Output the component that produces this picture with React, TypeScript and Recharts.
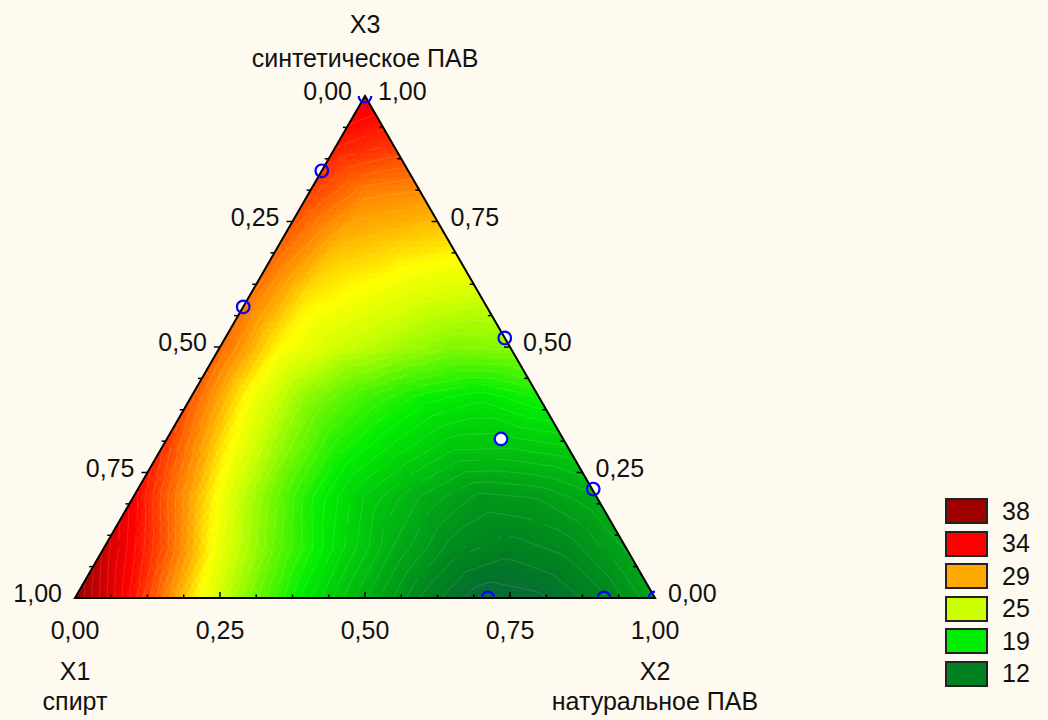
import React from "react"
import { ScatterChart, Scatter, XAxis, YAxis, Legend } from "recharts"

const H = Math.sqrt(3) / 2
const FONT = '"Liberation Sans", Arial, Helvetica, sans-serif'

// response on a 0.1 simplex lattice
// one row per X3 level (0 .. 1), entries for X2 = 0, 0.1, ... (X1 = 1 - X2 - X3)
const surfaceRows: number[][] = [
  [38.5, 33.5, 27.8, 22.8, 18.4, 15.0, 12.2, 10.6, 10.9, 12.0, 14.2],
  [36.2, 31.8, 26.2, 21.7, 18.0, 14.9, 12.7, 12.0, 12.6, 14.4],
  [34.2, 29.2, 24.2, 19.8, 16.8, 14.8, 13.4, 13.7, 14.8],
  [32.6, 27.8, 23.5, 19.9, 18.0, 16.4, 16.3, 16.8],
  [31.4, 26.8, 23.1, 20.8, 19.2, 18.4, 19.5],
  [31.0, 27.2, 25.2, 24.0, 22.8, 23.0],
  [30.6, 27.6, 26.6, 25.6, 25.1],
  [31.1, 28.6, 28.0, 27.5],
  [32.0, 30.0, 29.6],
  [33.2, 32.4],
  [34.6],
]

// experimental design points (X2, X3)
const rimX2 = [0, 0, 0, 0.482, 0.785, 0.712, 0.912, 1]
const rimX3 = [1, 0.851, 0.58, 0.518, 0.217, 0, 0, 0]
const innerX2 = [0.576]
const innerX3 = [0.317]

const tickLabels = ["0,00", "0,25", "0,50", "0,75", "1,00"]
const vertexNames = ["X1", "X2", "X3"]
const vertexTitles = ["спирт", "натуральное ПАВ", "синтетическое ПАВ"]
const legendLevels = [38, 34, 29, 25, 19, 12]

const legendColors = ["#a00000", "#ff0000", "#ffaa00", "#ccff00", "#00ee00", "#008020"]
const colorStops: [number, string][] = [
  [10, "#0d5e3e"],
  [11, "#066e32"],
  [12, "#008020"],
  [19, "#00ee00"],
  [25, "#ccff00"],
  [27, "#ffff00"],
  [29, "#ffaa00"],
  [34, "#ff0000"],
  [38, "#a00000"],
  [40, "#800000"],
]

const hex = (s: string) => [1, 3, 5].map((i) => parseInt(s.slice(i, i + 2), 16))

function colorFor(v: number) {
  if (v <= colorStops[0][0]) return colorStops[0][1]
  for (let i = 1; i < colorStops.length; i++) {
    const [v1, c1] = colorStops[i]
    if (v <= v1) {
      const [v0, c0] = colorStops[i - 1]
      const t = (v - v0) / (v1 - v0)
      const a = hex(c0)
      const b = hex(c1)
      const m = a.map((x, j) => Math.round(x + (b[j] - x) * t))
      return `rgb(${m[0]},${m[1]},${m[2]})`
    }
  }
  return colorStops[colorStops.length - 1][1]
}

// ternary -> cartesian (X2 along the bottom, X3 at the top)
const toXY = (x2: number, x3: number) => ({ x: x2 + x3 / 2, y: x3 * H })

const rowStart: number[] = []
const latticeData = surfaceRows.flatMap((row, k) => {
  rowStart.push(rowStart.length ? rowStart[k - 1] + surfaceRows[k - 1].length : 0)
  return row.map((v, i) => ({ ...toXY(i / 10, k / 10), v }))
})

const rimData = rimX2.map((b, i) => toXY(b, rimX3[i]))
const innerData = innerX2.map((b, i) => toXY(b, innerX3[i]))
const cornerData = [toXY(0, 0), toXY(1, 0), toXY(0, 1)]

const bottomLabels = tickLabels.map((label, i) => ({ ...toXY(i * 0.25, 0), label }))
// left edge carries X1 (1 at the bottom), right edge carries X3
const leftLabels = tickLabels.map((label, i) => ({ ...toXY(0, 1 - i * 0.25), label }))
const rightLabels = tickLabels.map((label, i) => ({ ...toXY(1 - i * 0.25, i * 0.25), label }))

const minor = Array.from({ length: 15 }, (_, j) => (j + 1) / 16)
const bottomTicks = minor.map((t, j) => ({ ...toXY(t, 0), major: (j + 1) % 4 === 0 }))
const leftTicks = minor.map((t, j) => ({ ...toXY(0, t), major: (j + 1) % 4 === 0 }))
const rightTicks = minor.map((t, j) => ({ ...toXY(1 - t, t), major: (j + 1) % 4 === 0 }))

const titleData = [
  { ...toXY(0, 0), name: vertexNames[0], title: vertexTitles[0], top: false },
  { ...toXY(1, 0), name: vertexNames[1], title: vertexTitles[1], top: false },
  { ...toXY(0, 1), name: vertexNames[2], title: vertexTitles[2], top: true },
]

const SUB = 8
const LEVEL_STEP = 0.65

function SurfaceMesh(props: any) {
  const pts = props.points
  if (!pts || pts.length !== latticeData.length) return null
  const polys: React.ReactNode[] = []
  let iso = ""
  const n = surfaceRows.length - 1
  const f = (z: number) => z.toFixed(1)

  const tri = (a: number, b: number, c: number) => {
    const pa = pts[a], pb = pts[b], pc = pts[c]
    const va = latticeData[a].v, vb = latticeData[b].v, vc = latticeData[c].v
    const P = (u: number, w: number) => [
      pa.x + ((pb.x - pa.x) * u) / SUB + ((pc.x - pa.x) * w) / SUB,
      pa.y + ((pb.y - pa.y) * u) / SUB + ((pc.y - pa.y) * w) / SUB,
    ]
    const V = (u: number, w: number) => va + ((vb - va) * u) / SUB + ((vc - va) * w) / SUB
    const push = (q: [number, number][]) => {
      const xy = q.map(([u, w]) => P(u, w))
      const vs = q.map(([u, w]) => V(u, w))
      const col = colorFor((vs[0] + vs[1] + vs[2]) / 3)
      polys.push(
        <polygon
          key={polys.length}
          points={xy.map((p) => f(p[0]) + "," + f(p[1])).join(" ")}
          fill={col}
          stroke={col}
          strokeWidth={1}
        />
      )
      // faint contour lines through this small triangle
      const lo = Math.min(...vs), hi = Math.max(...vs)
      for (let L = Math.ceil(lo / LEVEL_STEP) * LEVEL_STEP; L < hi; L += LEVEL_STEP) {
        const cut: number[][] = []
        for (let e = 0; e < 3; e++) {
          const v0 = vs[e], v1 = vs[(e + 1) % 3]
          if ((v0 - L) * (v1 - L) < 0) {
            const t = (L - v0) / (v1 - v0)
            const p0 = xy[e], p1 = xy[(e + 1) % 3]
            cut.push([p0[0] + (p1[0] - p0[0]) * t, p0[1] + (p1[1] - p0[1]) * t])
          }
        }
        if (cut.length === 2) iso += `M${f(cut[0][0])},${f(cut[0][1])}L${f(cut[1][0])},${f(cut[1][1])}`
      }
    }
    for (let u = 0; u < SUB; u++) {
      for (let w = 0; w < SUB - u; w++) {
        push([[u, w], [u + 1, w], [u, w + 1]])
        if (u + w < SUB - 1) push([[u + 1, w], [u + 1, w + 1], [u, w + 1]])
      }
    }
  }
  for (let k = 0; k < n; k++) {
    const len = surfaceRows[k].length
    for (let i = 0; i < len - 1; i++) {
      tri(rowStart[k] + i, rowStart[k] + i + 1, rowStart[k + 1] + i)
      if (i < len - 2) tri(rowStart[k] + i + 1, rowStart[k + 1] + i + 1, rowStart[k + 1] + i)
    }
  }
  return (
    <g>
      {polys}
      <path d={iso} fill="none" stroke="rgba(255,255,255,0.16)" strokeWidth={0.8} />
    </g>
  )
}

function Outline(props: any) {
  const pts = props.points
  if (!pts) return null
  return (
    <polygon
      points={pts.map((p: any) => `${p.x},${p.y}`).join(" ")}
      fill="none"
      stroke="#000"
      strokeWidth={2}
    />
  )
}

const none = () => <g />

const textStyle = { fontFamily: FONT, fontSize: 25, fill: "#111" }

export default function App() {
  return (
    <div style={{ position: "absolute", left: 0, top: 0, width: 1048, height: 720, background: "#fffaf0" }}>
      <ScatterChart width={1048} height={720} margin={{ top: 96, right: 393, bottom: 122, left: 75 }}>
        <XAxis xAxisId="f" type="number" dataKey="x" domain={[0, 1]} hide />
        <YAxis yAxisId="f" type="number" dataKey="y" domain={[0, H]} hide />
        <XAxis xAxisId="c" type="number" dataKey="x" domain={[0, 1]} allowDataOverflow hide />
        <YAxis yAxisId="c" type="number" dataKey="y" domain={[0, H]} allowDataOverflow hide />

        <Scatter xAxisId="f" yAxisId="f" data={latticeData} shape={none} line={<SurfaceMesh />} isAnimationActive={false} />
        <Scatter xAxisId="f" yAxisId="f" data={cornerData} shape={none} line={<Outline />} isAnimationActive={false} />

        <Scatter
          xAxisId="f"
          yAxisId="f"
          data={bottomTicks}
          isAnimationActive={false}
          shape={(p: any) => (
            <line x1={p.cx} y1={p.cy} x2={p.cx} y2={p.cy - (p.payload.major ? 6 : 3.5)} stroke="#000" strokeWidth={1.5} />
          )}
        />
        <Scatter
          xAxisId="f"
          yAxisId="f"
          data={leftTicks}
          isAnimationActive={false}
          shape={(p: any) => (
            <line x1={p.cx} y1={p.cy} x2={p.cx - (p.payload.major ? 6 : 4)} y2={p.cy} stroke="#000" strokeWidth={1.5} />
          )}
        />
        <Scatter
          xAxisId="f"
          yAxisId="f"
          data={rightTicks}
          isAnimationActive={false}
          shape={(p: any) => (
            <line x1={p.cx} y1={p.cy} x2={p.cx - (p.payload.major ? 6 : 4)} y2={p.cy} stroke="#000" strokeWidth={1.5} />
          )}
        />

        <Scatter
          xAxisId="c"
          yAxisId="c"
          data={rimData}
          isAnimationActive={false}
          shape={(p: any) => <circle cx={p.cx} cy={p.cy} r={6.3} fill="none" stroke="#0000ff" strokeWidth={2.2} />}
        />
        <Scatter
          xAxisId="c"
          yAxisId="c"
          data={innerData}
          isAnimationActive={false}
          shape={(p: any) => <circle cx={p.cx} cy={p.cy} r={6.3} fill="#fff" stroke="#0000ff" strokeWidth={2.2} />}
        />

        <Scatter
          xAxisId="f"
          yAxisId="f"
          data={bottomLabels}
          isAnimationActive={false}
          shape={(p: any) => (
            <text x={p.cx} y={p.cy + 41} textAnchor="middle" style={textStyle}>
              {p.payload.label}
            </text>
          )}
        />
        <Scatter
          xAxisId="f"
          yAxisId="f"
          data={leftLabels}
          isAnimationActive={false}
          shape={(p: any) => (
            <text x={p.cx - 13} y={p.cy + 4} textAnchor="end" style={textStyle}>
              {p.payload.label}
            </text>
          )}
        />
        <Scatter
          xAxisId="f"
          yAxisId="f"
          data={rightLabels}
          isAnimationActive={false}
          shape={(p: any) => (
            <text x={p.cx + 13} y={p.cy + 4} textAnchor="start" style={textStyle}>
              {p.payload.label}
            </text>
          )}
        />
        <Scatter
          xAxisId="f"
          yAxisId="f"
          data={titleData}
          isAnimationActive={false}
          shape={(p: any) => (
            <g>
              <text x={p.cx} y={p.payload.top ? p.cy - 63 : p.cy + 82} textAnchor="middle" style={textStyle}>
                {p.payload.name}
              </text>
              <text x={p.cx} y={p.payload.top ? p.cy - 29 : p.cy + 112} textAnchor="middle" style={textStyle}>
                {p.payload.title}
              </text>
            </g>
          )}
        />

        <Legend
          layout="vertical"
          align="center"
          verticalAlign="middle"
          wrapperStyle={{ left: 945, top: 495, width: 100 }}
          content={() => (
            <div>
              {legendLevels.map((lv, i) => (
                <div key={lv} style={{ display: "flex", alignItems: "center", height: 32.5 }}>
                  <div
                    style={{
                      width: 39,
                      height: 22,
                      background: legendColors[i],
                      border: "2px solid #222",
                    }}
                  />
                  <span style={{ marginLeft: 14, fontFamily: FONT, fontSize: 25, color: "#111" }}>{lv}</span>
                </div>
              ))}
            </div>
          )}
        />
      </ScatterChart>
    </div>
  )
}
